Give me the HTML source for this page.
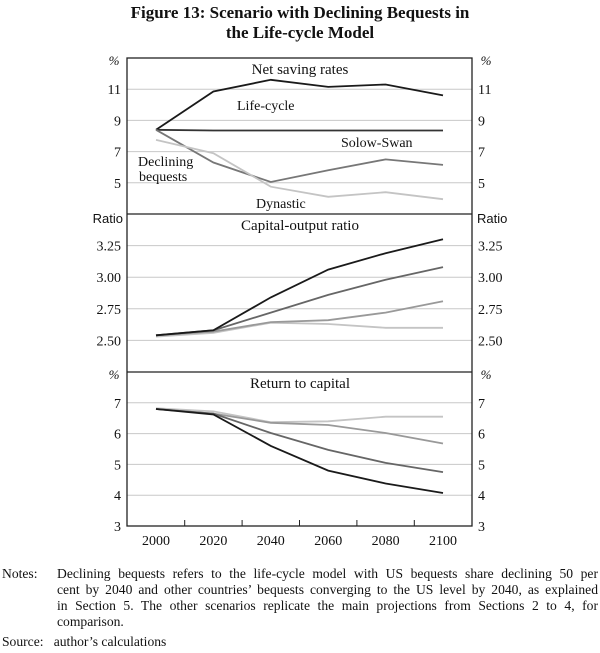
<!DOCTYPE html>
<html><head><meta charset="utf-8"><style>
body{margin:0;background:#fff;width:600px;height:653px;overflow:hidden;font-family:"Liberation Serif",serif}
svg{position:absolute;left:0;top:0}
.notes{position:absolute;left:2px;top:566px;width:596px;font-size:13.6px;line-height:16px;color:#111}
.notes .lab{position:absolute;left:0;top:0}
.notes .txt{margin-left:55px}
.notes .j{text-align:justify;text-align-last:justify;white-space:nowrap}
.src{position:absolute;left:2px;top:634px;font-size:13.6px;color:#111}
</style></head><body>
<svg id="s" width="600" height="653" xmlns="http://www.w3.org/2000/svg" font-family="Liberation Serif, serif" fill="#111">
<text x="300" y="18" text-anchor="middle" font-size="17" font-weight="bold">Figure 13: Scenario with Declining Bequests in</text>
<text x="300" y="38" text-anchor="middle" font-size="17" font-weight="bold">the Life-cycle Model</text>
<g id="g"></g>
</svg>
<div class="notes"><span class="lab">Notes:</span><div class="txt">
<div class="j">Declining bequests refers to the life-cycle model with US bequests share declining 50 per</div>
<div class="j">cent by 2040 and other countries’ bequests converging to the US level by 2040, as explained</div>
<div class="j">in Section 5. The other scenarios replicate the main projections from Sections 2 to 4, for</div>
<div>comparison.</div></div></div>
<div class="src">Source:&nbsp;&nbsp; author’s calculations</div>
<script>
var g=document.getElementById('g'),h='';
var L=127,R=472;
function X(i){return 156+i*57.4;}
var panels=[
 {top:58,bot:214,vtop:13,vbot:3,ticks:[11,9,7,5],fmt:function(v){return v;},unit:'%',title:'Net saving rates',
  s:[['#1a1a1a',[8.4,10.85,11.6,11.15,11.3,10.6]],['#333',[8.4,8.35,8.35,8.35,8.35,8.35]],['#777',[8.4,6.3,5.05,5.8,6.5,6.15]],['#c4c4c4',[7.75,6.9,4.75,4.1,4.4,3.95]]]},
 {top:214,bot:372,vtop:3.5,vbot:2.25,ticks:[3.25,3,2.75,2.5],fmt:function(v){return v.toFixed(2);},unit:'Ratio',title:'Capital-output ratio',
  s:[['#c4c4c4',[2.53,2.56,2.64,2.63,2.6,2.6]],['#999',[2.54,2.57,2.645,2.66,2.72,2.81]],['#666',[2.54,2.58,2.72,2.86,2.98,3.08]],['#1a1a1a',[2.54,2.58,2.84,3.06,3.19,3.30]]]},
 {top:372,bot:526,vtop:8,vbot:3,ticks:[7,6,5,4],fmt:function(v){return v;},unit:'%',title:'Return to capital',
  s:[['#c4c4c4',[6.82,6.72,6.37,6.4,6.55,6.55]],['#999',[6.8,6.65,6.35,6.28,6.02,5.68]],['#666',[6.8,6.65,6.02,5.47,5.05,4.75]],['#1a1a1a',[6.8,6.62,5.6,4.8,4.38,4.07]]]}
];
panels.forEach(function(p,pi){
 function Y(v){return p.top+(p.vtop-v)/(p.vtop-p.vbot)*(p.bot-p.top);}
 p.ticks.forEach(function(t){var y=Y(t);
  h+='<line x1="'+L+'" x2="'+R+'" y1="'+y+'" y2="'+y+'" stroke="#c8c8c8" stroke-width="1"/>';
  h+='<text x="121" y="'+(y+5)+'" text-anchor="end" font-size="14">'+p.fmt(t)+'</text>';
  h+='<text x="478" y="'+(y+5)+'" font-size="14">'+p.fmt(t)+'</text>';});
 if(pi==2){h+='<text x="121" y="531" text-anchor="end" font-size="14">3</text><text x="478" y="531" font-size="14">3</text>';}
 var uy=p.top+7;
 if(p.unit=='%'){h+='<text x="114" y="'+uy+'" text-anchor="middle" font-size="13" font-style="italic">%</text><text x="486" y="'+uy+'" text-anchor="middle" font-size="13" font-style="italic">%</text>';}
 else{h+='<text x="123" y="'+(uy+2)+'" text-anchor="end" font-size="13" font-family="Liberation Sans, sans-serif">Ratio</text><text x="477" y="'+(uy+2)+'" font-size="13" font-family="Liberation Sans, sans-serif">Ratio</text>';}
 h+='<text x="300" y="'+(p.top+16)+'" text-anchor="middle" font-size="15">'+p.title+'</text>';
 p.s.forEach(function(s){var pts=s[1].map(function(v,i){return X(i)+','+Y(v).toFixed(1);}).join(' ');
  h+='<polyline points="'+pts+'" fill="none" stroke="'+s[0]+'" stroke-width="1.8"/>';});
});
h+='<rect x="'+L+'" y="58" width="'+(R-L)+'" height="468" fill="none" stroke="#222" stroke-width="1.3"/>';
h+='<line x1="'+L+'" x2="'+R+'" y1="214" y2="214" stroke="#222" stroke-width="1.3"/><line x1="'+L+'" x2="'+R+'" y1="372" y2="372" stroke="#222" stroke-width="1.3"/>';
for(var i=0;i<5;i++){var x=X(i)+28.7;h+='<line x1="'+x+'" x2="'+x+'" y1="526" y2="520" stroke="#222"/>';}
for(var i=0;i<6;i++){h+='<text x="'+X(i)+'" y="545" text-anchor="middle" font-size="14">'+(2000+20*i)+'</text>';}
h+='<text x="237" y="110" font-size="14">Life-cycle</text><text x="341" y="147" font-size="14">Solow-Swan</text>';
h+='<text x="138" y="166" font-size="14">Declining</text><text x="139" y="181" font-size="14">bequests</text><text x="256" y="208" font-size="14">Dynastic</text>';
g.innerHTML=h;
</script>
</body></html>
